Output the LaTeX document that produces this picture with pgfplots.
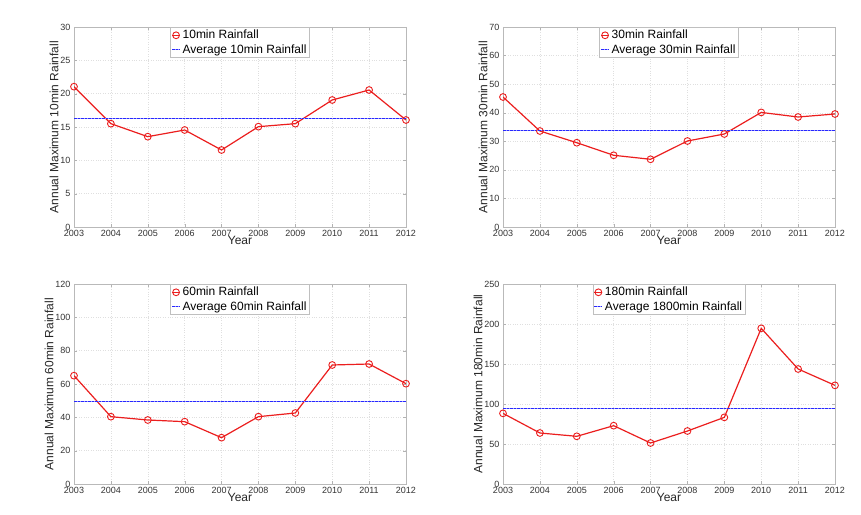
\documentclass[border=0pt]{standalone}
\usepackage{pgfplots}
\pgfplotsset{compat=1.18}
\usepackage{fontspec}
\setmainfont{Liberation Sans}
\definecolor{myred}{RGB}{235,30,30}
\definecolor{myblue}{RGB}{40,40,255}
\pgfplotsset{
  rain/.style={
    scale only axis, width=332pt, height=200pt,
    xmin=2003, xmax=2012, ymin=0,
    xtick={2003,...,2012},
    xticklabel style={/pgf/number format/1000 sep={}},
    /pgf/number format/assume math mode=true,
    tick label style={font=\fontsize{9}{10}\selectfont, text=black!80},
    label style={font=\fontsize{12}{13}\selectfont, text=black!85},
    xlabel={Year},
    xlabel style={yshift=8pt},
    ylabel style={yshift=-5pt},
    grid=major,
    grid style={dotted, gray!25},
    axis line style={gray!55},
    tick style={gray!60},
    major tick length=3pt,
    tick align=inside,
    legend style={at={(0.5,1)}, anchor=north, draw=gray!50,
      font=\fontsize{12}{13}\selectfont, inner sep=1pt, row sep=0pt,
      cells={anchor=west}},
    legend image code/.code={\draw[mark repeat=2,mark phase=2,##1] plot coordinates {(0cm,0cm) (0.14cm,0cm) (0.28cm,0cm)};},
    anchor=south west,
  },
  dat/.style={myred, line width=1.2pt, mark=o, mark size=3.4pt, mark options={line width=0.9pt}},
  avg/.style={myblue, line width=1.2pt, dash pattern=on 2.5pt off 1pt,
    preaction={draw, solid, line width=1.2pt, color=myblue!45}},
}
\begin{document}
\begin{tikzpicture}
\path[use as bounding box] (0,0) rectangle (861pt,514pt);
% top-left
\begin{axis}[rain, at={(74pt,287pt)}, ymax=30, ytick={0,5,...,30},
  ylabel={Annual Maximum 10min Rainfall}]
\addplot[dat] coordinates {(2003,21.05) (2004,15.5) (2005,13.55) (2006,14.55) (2007,11.55) (2008,15.05) (2009,15.5) (2010,19.05) (2011,20.55) (2012,16.05)};
\addlegendentry{10min Rainfall}
\addplot[avg] coordinates {(2003,16.25) (2012,16.25)};
\addlegendentry{Average 10min Rainfall}
\end{axis}
% top-right
\begin{axis}[rain, at={(503pt,287pt)}, ymax=70, ytick={0,10,...,70},
  ylabel={Annual Maximum 30min Rainfall}]
\addplot[dat] coordinates {(2003,45.5) (2004,33.6) (2005,29.5) (2006,25.1) (2007,23.7) (2008,30.1) (2009,32.55) (2010,40.1) (2011,38.5) (2012,39.55)};
\addlegendentry{30min Rainfall}
\addplot[avg] coordinates {(2003,33.8) (2012,33.8)};
\addlegendentry{Average 30min Rainfall}
\end{axis}
% bottom-left
\begin{axis}[rain, at={(74pt,30pt)}, ymax=120, ytick={0,20,...,120},
  ylabel={Annual Maximum 60min Rainfall}]
\addplot[dat] coordinates {(2003,65) (2004,40.4) (2005,38.4) (2006,37.4) (2007,27.8) (2008,40.4) (2009,42.6) (2010,71.4) (2011,72) (2012,60.2)};
\addlegendentry{60min Rainfall}
\addplot[avg] coordinates {(2003,49.6) (2012,49.6)};
\addlegendentry{Average 60min Rainfall}
\end{axis}
% bottom-right
\begin{axis}[rain, at={(503pt,30pt)}, ymax=250, ytick={0,50,...,250},
  ylabel={Annual Maximum 180min Rainfall}]
\addplot[dat] coordinates {(2003,88.3) (2004,63.75) (2005,59.6) (2006,72.9) (2007,51.25) (2008,66.25) (2009,83.3) (2010,194.6) (2011,143.75) (2012,123.3)};
\addlegendentry{180min Rainfall}
\addplot[avg] coordinates {(2003,94.6) (2012,94.6)};
\addlegendentry{Average 1800min Rainfall}
\end{axis}
\end{tikzpicture}
\end{document}
